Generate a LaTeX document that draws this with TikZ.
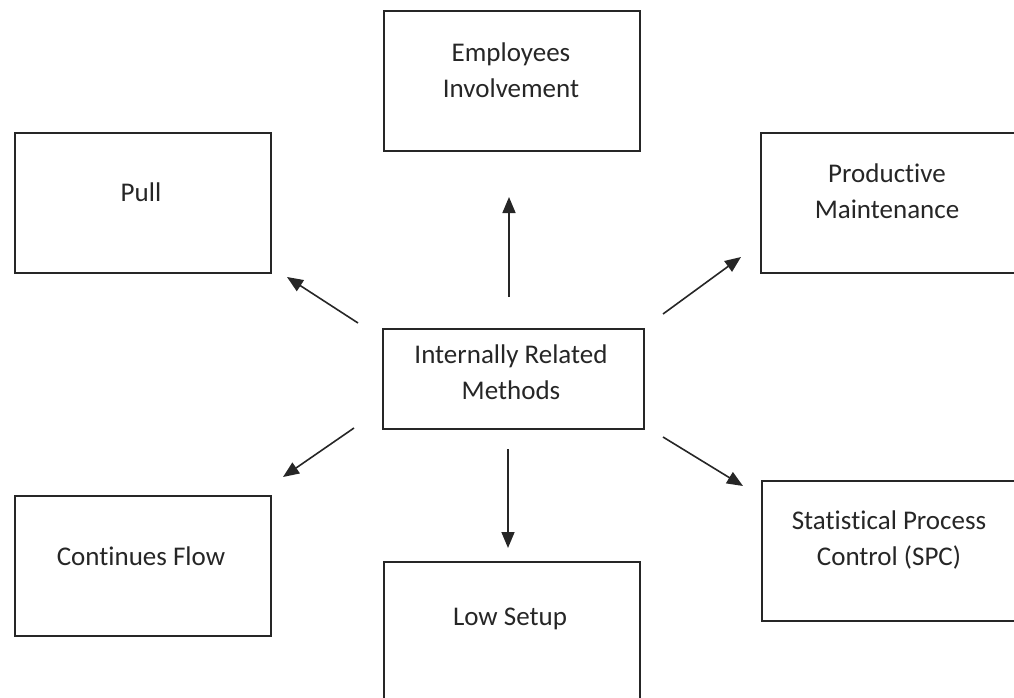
\documentclass[tikz,border=0pt]{standalone}
\usepackage{fontspec}
\setmainfont[RawFeature={-liga;-clig;-calt}]{Carlito}
\usetikzlibrary{arrows.meta}
\definecolor{ink}{HTML}{262626}
\begin{document}
\begin{tikzpicture}[x=1pt,y=-1pt,
  box/.style={draw=ink, line width=1.7pt, inner sep=0pt, anchor=north west,
    minimum width=256pt, minimum height=140pt},
  lbl/.style={font=\fontsize{27}{36}\selectfont, align=center, text=ink},
  arr/.style={draw=ink, line width=1.6pt, -{Triangle[length=16pt,width=13pt]}}]
  \useasboundingbox (0,0) rectangle (1014,698);
  \clip (0,0) rectangle (1014,698);

  % boxes
  \node[box] (emp)  at (383,10)  {};
  \node[box] (pull) at (14,132)  {};
  \node[box] (prod) at (760,132) {};
  \node[box, minimum width=261pt, minimum height=100pt] (core) at (382,328) {};
  \node[box] (flow) at (14,495)  {};
  \node[box] (low)  at (383,561) {};
  \node[box] (spc)  at (761,480) {};

  % labels
  \node[lbl] (empT)  at (511,70)    {Employees\\Involvement};
  \node[lbl] (pullT) at (141,192)   {Pull};
  \node[lbl] (prodT) at (887,191)   {Produc\kern0pt tive\\Maintenance};
  \node[lbl] (coreT) at (511,372)   {Internally Related\\Methods};
  \node[lbl] (flowT) at (141,556)   {Continues Flow};
  \node[lbl] (lowT)  at (510,619)   {Low Setup};
  \node[lbl] (spcT)  at (889,540)   {Statis\kern0pt ti\kern0pt cal Process\\Control (SPC)};

  % arrow end points
  \coordinate (aUp0) at (509,297);  \coordinate (aUp1) at (509,197);
  \coordinate (aUL0) at (358,323);  \coordinate (aUL1) at (287,277);
  \coordinate (aUR0) at (663,314);  \coordinate (aUR1) at (741,257);
  \coordinate (aDL0) at (354,428);  \coordinate (aDL1) at (283,477);
  \coordinate (aDn0) at (508,449);  \coordinate (aDn1) at (508,548);
  \coordinate (aDR0) at (663,437);  \coordinate (aDR1) at (743,486);

  % arrows
  \draw[arr] (aUp0) -- (aUp1);
  \draw[arr] (aUL0) -- (aUL1);
  \draw[arr] (aUR0) -- (aUR1);
  \draw[arr] (aDL0) -- (aDL1);
  \draw[arr] (aDn0) -- (aDn1);
  \draw[arr] (aDR0) -- (aDR1);
\end{tikzpicture}
\end{document}
